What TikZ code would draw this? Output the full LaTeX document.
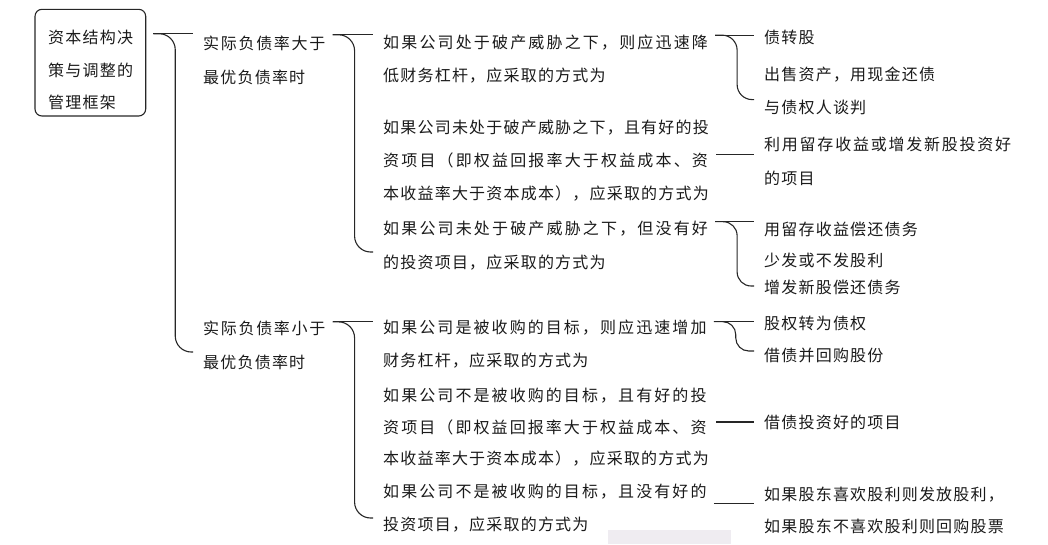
\documentclass[tikz,border=0pt]{standalone}
\usepackage{fontspec}
\setmainfont{Noto Sans CJK SC}[LetterSpace=7.5]
\usetikzlibrary{calc}
\definecolor{textc}{HTML}{1A1A1A}
\definecolor{linec}{HTML}{262626}
\definecolor{patch}{HTML}{EFECF1}
\newcommand{\jl}[2]{{\addfontfeature{LetterSpace=#1}#2}}
% fork connector: #1 parent, #2 y offset from parent.north, #3 first child, #4 last child,
% #5 y offset from last child's centre, #6 corner radius
\newcommand{\forkline}[6]{%
  \coordinate (#1s) at ($(#1.north east)+(7,#2)$);
  \coordinate (#1v) at ($(#1s)+(22,0)$);
  \coordinate (#1a) at (#1s -| #3.west);
  \coordinate (#1e) at ($(#4.west)+(-10,#5)$);
  \draw[conn] (#1s) -- ($(#1a)+(-10,0)$);
  \draw[conn, rounded corners=#6] (#1s) -- (#1v) -- (#1v |- #1e) -- (#1e);
}
% single connector: #1 parent, #2 child, #3 y offset from parent centre
\newcommand{\singleline}[3]{%
  \coordinate (#1s) at ($(#1.east)+(7,#3)$);
  \coordinate (#1a) at (#1s -| #2.west);
  \draw[conn] (#1s) -- ($(#1a)+(-10,0)$);
}
\begin{document}
\begin{tikzpicture}[x=1pt,y=-1pt,
  txt/.style={inner sep=0pt, anchor=west, align=left, text=textc, font=\fontsize{16}{#1}\selectfont},
  txt/.default=33,
  conn/.style={draw=linec, line width=1.1pt},
  rootbox/.style={draw=linec, line width=1.1pt, rounded corners=7pt, minimum width=110.7pt, minimum height=106.7pt, inner sep=0pt}]
\useasboundingbox (0,0) rectangle (1048,544);
\fill[patch] (608,530) rectangle (731,544);

% root
\node[rootbox] (root) at (90.35,62.65) {};
\node[txt=32.5] (roottext) at (48,70) {资本结构决\\策与调整的\\管理框架};

% level 1
\node[txt=34] (c1) at (203,60.4) {\jl{10.6}{实际负债率大于}\\最优负债率时};
\node[txt=34] (c2) at (203,345) {\jl{10.6}{实际负债率小于}\\最优负债率时};

% level 2
\node[txt] (g1) at (383,59.5) {\jl{13.5}{如果公司处于破产威胁之下，则应迅速降}\\低财务杠杆，应采取的方式为};
\node[txt] (g2) at (383,161) {如果公司未处于破产威胁之下，且有好的投\\\jl{13.5}{资项目（即权益回报率大于权益成本、资}\\本收益率大于资本成本），应采取的方式为};
\node[txt=34] (g3) at (383,246) {\jl{13.5}{如果公司未处于破产威胁之下，但没有好}\\的投资项目，应采取的方式为};
\node[txt] (g4) at (383,344.5) {\jl{13}{如果公司是被收购的目标，则应迅速增加}\\财务杠杆，应采取的方式为};
\node[txt=31.5] (g5) at (383,427.5) {\jl{13}{如果公司不是被收购的目标，且有好的投}\\\jl{13}{资项目（即权益回报率大于权益成本、资}\\本收益率大于资本成本），应采取的方式为};
\node[txt] (g6) at (383,508.5) {\jl{13}{如果公司不是被收购的目标，且没有好的}\\投资项目，应采取的方式为};

% level 3
\node[txt] (a1) at (764,37.8) {债转股};
\node[txt] (a2) at (764,74.6) {出售资产，用现金还债};
\node[txt] (a3) at (764,107) {与债权人谈判};
\node[txt=34] (b1) at (764,161) {\jl{11}{利用留存收益或增发新股投资好}\\的项目};
\node[txt] (h1) at (764,229) {用留存收益偿还债务};
\node[txt] (h2) at (764,260) {少发或不发股利};
\node[txt] (h3) at (764,287.5) {增发新股偿还债务};
\node[txt] (d1) at (764,323) {股权转为债权};
\node[txt] (d2) at (764,355) {借债并回购股份};
\node[txt] (e1) at (764,422) {借债投资好的项目};
\node[txt=32] (f1) at (764,510) {如果股东喜欢股利则发放股利，\\如果股东不喜欢股利则回购股票};

% connectors
\forkline{root}{25}{c1}{c2}{7}{16pt}
\forkline{c1}{-1}{g1}{g3}{6}{16pt}
\forkline{c2}{1.5}{g4}{g6}{9.5}{16pt}
\forkline{g1}{0}{a1}{a3}{-7.4}{15pt}
\singleline{g2}{b1}{-6.5}
\forkline{g3}{0.5}{h1}{h3}{-1.5}{14pt}
\forkline{g4}{1.5}{d1}{d2}{-4}{13pt}
\singleline{g5}{e1}{-5.5}
\singleline{g6}{f1}{-5}
\end{tikzpicture}
\end{document}
